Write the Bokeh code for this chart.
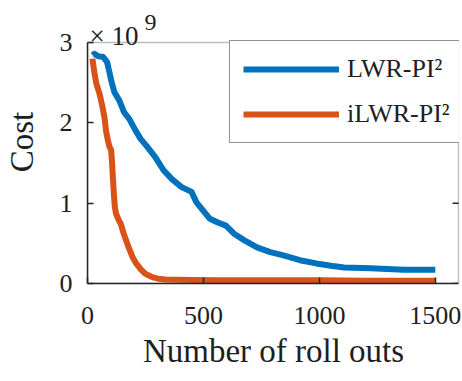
import math
from bokeh.plotting import figure
from bokeh.models import FixedTicker, Label, Legend, LegendItem, BoxAnnotation
from bokeh.embed import file_html
from bokeh.resources import INLINE

# ---- data (cost in units of 1e9) ----
lwr_rollouts = [22, 30, 45, 67, 84, 93, 102, 116, 137, 158, 180, 208, 229, 258,
                293, 328, 364, 406, 449, 470, 498, 526, 562, 597, 632, 675, 731,
                788, 845, 916, 986, 1050, 1107, 1221, 1363, 1500]
lwr_cost = [2.84, 2.86, 2.83, 2.82, 2.76, 2.65, 2.53, 2.38, 2.28, 2.13, 2.05, 1.90,
            1.80, 1.70, 1.57, 1.41, 1.30, 1.20, 1.14, 1.01, 0.91, 0.81, 0.76, 0.72,
            0.62, 0.54, 0.45, 0.39, 0.35, 0.29, 0.25, 0.22, 0.20, 0.19, 0.17, 0.17]

ilwr_rollouts = [21, 30, 38, 52, 63, 73, 80, 88, 95, 102, 106, 110, 114, 118, 123,
                 133, 144, 155, 166, 180, 194, 210, 229, 250, 279, 305, 335, 450,
                 561, 800, 1000, 1200, 1500]
ilwr_cost = [2.80, 2.62, 2.49, 2.36, 2.22, 2.07, 1.90, 1.78, 1.70, 1.66, 1.50, 1.30,
             1.10, 0.95, 0.87, 0.80, 0.74, 0.63, 0.54, 0.43, 0.33, 0.25, 0.18, 0.12,
             0.08, 0.06, 0.05, 0.045, 0.04, 0.04, 0.04, 0.035, 0.035]

x_ticks = [0, 500, 1000, 1500]
y_ticks = [0, 1, 2, 3]
x_max = 1600
series_labels = ["LWR-PI\u00b2", "iLWR-PI\u00b2"]
x_label = "Number of roll outs"
y_label = "Cost"
multiplier_text = "\u00d7 10"
multiplier_exp = "9"

FONT = "Liberation Serif"
TXT = "#1e1e1e"
AX = "#262626"

W, H = 462, 381
LEFT, RIGHT, BOTTOM = 81, 3, 98
FRAME_H = H - BOTTOM          # frame runs from the canvas top to the x axis
BOX_H = FRAME_H - 42          # axes box starts 42 px below the canvas top
FRAME_W = W - LEFT - RIGHT
BOX_W = FRAME_W - 1
y_top = y_ticks[-1]
y_view_max = y_top * FRAME_H / BOX_H
x_view_max = x_max * FRAME_W / BOX_W

p = figure(width=W, height=H, x_range=(0, x_view_max), y_range=(0, y_view_max),
           output_backend="svg", toolbar_location=None,
           min_border_left=LEFT, min_border_right=RIGHT, min_border_top=0,
           min_border_bottom=BOTTOM)
p.background_fill_color = "white"
p.border_fill_color = "white"
p.outline_line_color = None
p.grid.visible = False

l1 = p.line(lwr_rollouts, lwr_cost, line_color="#0072BD", line_width=6,
            line_join="round")
l2 = p.line(ilwr_rollouts, ilwr_cost, line_color="#D95319", line_width=6,
            line_join="round")

# axes box and right-hand inward ticks
p.add_layout(BoxAnnotation(left=0, right=x_max, bottom=0, top=y_top,
                           fill_color=None, line_color=AX, line_width=1.5))
p.ray(x=[x_max] * len(y_ticks), y=y_ticks, length=6, length_units="screen",
      angle=math.pi, line_color=AX, line_width=1.5)

for ax, ticks in ((p.xaxis[0], x_ticks), (p.yaxis[0], y_ticks)):
    ax.ticker = FixedTicker(ticks=ticks)
    ax.minor_tick_line_color = None
    ax.major_tick_in = 6
    ax.major_tick_out = 0
    ax.axis_line_color = AX
    ax.axis_line_width = 1.5
    ax.major_tick_line_color = AX
    ax.major_tick_line_width = 1.5
    ax.axis_label_text_font_style = "normal"
    ax.axis_label_text_color = TXT
    ax.major_label_text_color = TXT
    ax.major_label_text_font = FONT
    ax.major_label_text_font_size = "26px"
    ax.axis_label_text_font = FONT
    ax.axis_label_text_font_size = "33px"

p.yaxis.bounds = (0, y_top)
p.xaxis.bounds = (0, x_max)
p.xaxis.axis_label = x_label
p.yaxis.axis_label = y_label
p.xaxis.major_label_standoff = 23
p.yaxis.major_label_standoff = 15
p.xaxis.axis_label_standoff = 6
p.yaxis.axis_label_standoff = 17

legend = Legend(items=[LegendItem(label=series_labels[0], renderers=[l1]),
                       LegendItem(label=series_labels[1], renderers=[l2])],
                location=(142, 140), margin=0, padding=13, spacing=15,
                glyph_width=96, glyph_height=30, label_standoff=8,
                label_text_font=FONT, label_text_font_size="26px",
                label_text_color=TXT, border_line_color=AX, border_line_width=1.5,
                background_fill_alpha=1.0)
p.add_layout(legend, "center")

p.add_layout(Label(x=0, y=y_top, text=multiplier_text, x_offset=2, y_offset=7,
                   text_font=FONT, text_font_size="27px", text_color=TXT,
                   text_baseline="alphabetic"))
p.add_layout(Label(x=0, y=y_top, text=multiplier_exp, x_offset=57, y_offset=20,
                   text_font=FONT, text_font_size="24px", text_color=TXT,
                   text_baseline="alphabetic"))

open("out.html", "w").write(file_html(p, INLINE))
